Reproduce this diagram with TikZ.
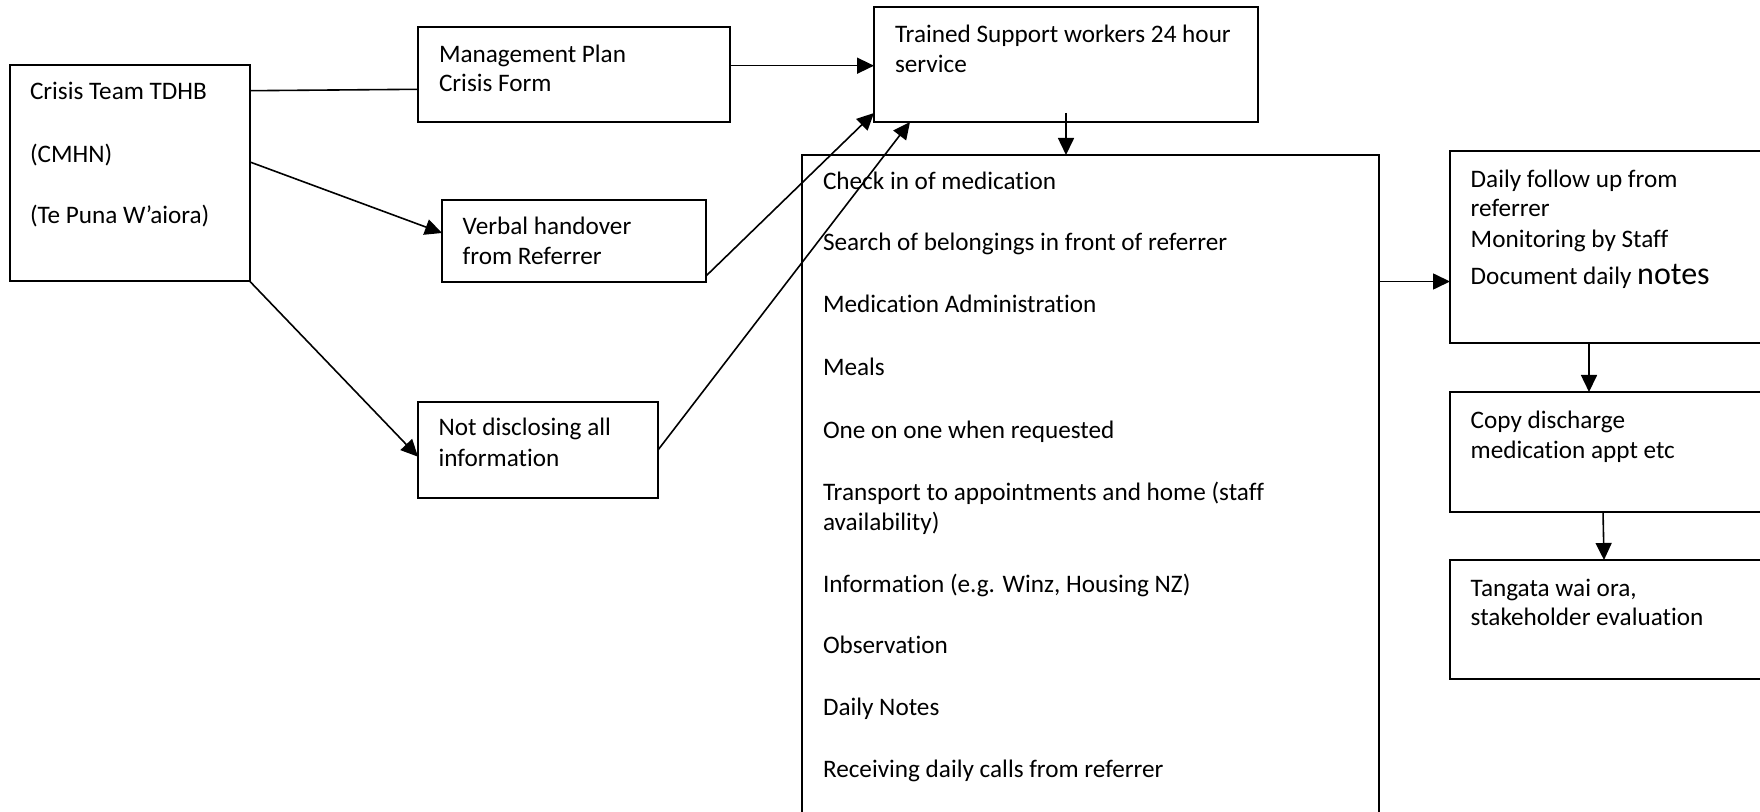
\documentclass[tikz,border=0pt]{standalone}
\usepackage{fontspec}
\setmainfont{Carlito}[Ligatures={NoCommon}, RawFeature={-liga;-clig}]
\usetikzlibrary{arrows.meta,calc,fit}
\tikzset{
  box/.style={draw, line width=1pt, inner sep=0pt, outer sep=0pt, rectangle},
  txt/.style={anchor=base west, inner sep=0pt, outer sep=0pt, font=\fontsize{12.6}{15.4}\selectfont},
  conn/.style={line width=0.8pt},
  arr/.style={conn, -{Triangle[length=8.5pt,width=8pt]}}
}
\begin{document}
\begin{tikzpicture}[x=0.5pt,y=-0.5pt]
\useasboundingbox (0,0) rectangle (1760,812);
\clip (0,0) rectangle (1760,812);
% boxes
\node[box, fit={(10,65.5) (250,281.5)}] (crisis) {};
\node[box, fit={(418,27) (730,122)}] (mgmt) {};
\node[box, fit={(874,7) (1258,122)}] (trained) {};
\node[box, fit={(442,200) (706,282)}] (verbal) {};
\node[box, fit={(418,401.5) (658,498)}] (notdisc) {};
\node[box, fit={(802,155) (1379,840)}] (big) {};
\node[box, fit={(1450,151) (1790,343)}] (daily) {};
\node[box, fit={(1450,392) (1790,511.5)}] (copy) {};
\node[box, fit={(1450,560) (1790,678.5)}] (tangata) {};
% texts
\node[txt] (c1) at (30,99.3) {Crisis Team TDHB};
\node[txt] (c2) at (30,162.7) {(CMHN)};
\node[txt] (c3) at (30,224) {(Te Puna W’aiora)};
\node[txt] (m1) at (439,62.3) {Management Plan};
\node[txt] (m2) at (439,91.7) {Crisis Form};
\node[txt] (t1) at (895,42.7) {Trained Support workers 24 hour};
\node[txt] (t2) at (895,72.7) {service};
\node[txt] (v1) at (462.7,235) {Verbal handover};
\node[txt] (v2) at (462.7,265) {from Referrer};
\node[txt] (n1) at (438.6,435) {Not disclosing all};
\node[txt] (n2) at (438.6,466) {information};
\node[txt] (b1) at (823,190) {Check in of medication};
\node[txt] (b2) at (823,251) {Search of belongings in front of referrer};
\node[txt] (b3) at (823,313) {Medication Administration};
\node[txt] (b4) at (823,376) {Meals};
\node[txt] (b5) at (823,438) {One on one when requested};
\node[txt] (b6) at (823,500) {Transport to appointments and home (staff};
\node[txt] (b7) at (823,530) {availability)};
\node[txt] (b8) at (823,592) {Information (e.g. Winz, Housing NZ)};
\node[txt] (b9) at (823,653) {Observation};
\node[txt] (b10) at (823,715) {Daily Notes};
\node[txt] (b11) at (823,777) {Receiving daily calls from referrer};
\node[txt] (d1) at (1470.7,187.4) {Daily follow up from};
\node[txt] (d2) at (1470.7,217) {referrer};
\node[txt] (d3) at (1470.7,248) {Monitoring by Staff};
\node[txt] (d4) at (1470.7,285) {Document daily {\fontsize{16}{19}\selectfont notes}};
\node[txt] (p1) at (1470.7,428) {Copy discharge};
\node[txt] (p2) at (1470.7,458) {medication appt etc};
\node[txt] (g1) at (1470.7,596) {Tangata wai ora,};
\node[txt] (g2) at (1470.7,625.5) {stakeholder evaluation};
% connectors
\draw[conn] ($(crisis.north east)+(0,25.2)$) -- ($(mgmt.north west)+(0,62.3)$);
\draw[arr] ($(crisis.north east)+(0,96.5)$) -- ($(verbal.north west)+(0,33)$);
\draw[arr] (crisis.south east) -- ($(notdisc.north west)+(0,55.2)$);
\draw[arr] ($(mgmt.north east)+(0,38.7)$) -- ($(trained.north west)+(0,58.7)$);
\draw[arr] ($(verbal.north east)+(0,76)$) -- ($(trained.south west)+(0,-9)$);
\draw[arr] ($(notdisc.north east)+(0,48.5)$) -- ($(trained.south west)+(36,0)$);
\draw[arr] ($(trained.south west)+(192,-9)$) -- ($(big.north west)+(264,0)$);
\draw[arr] ($(big.north east)+(0,126.5)$) -- ($(daily.north west)+(0,130.5)$);
\draw[arr] ($(daily.south west)+(139,0)$) -- ($(copy.north west)+(139,0)$);
\draw[arr] ($(copy.south west)+(153,0)$) -- ($(tangata.north west)+(154,0)$);
\end{tikzpicture}
\end{document}
